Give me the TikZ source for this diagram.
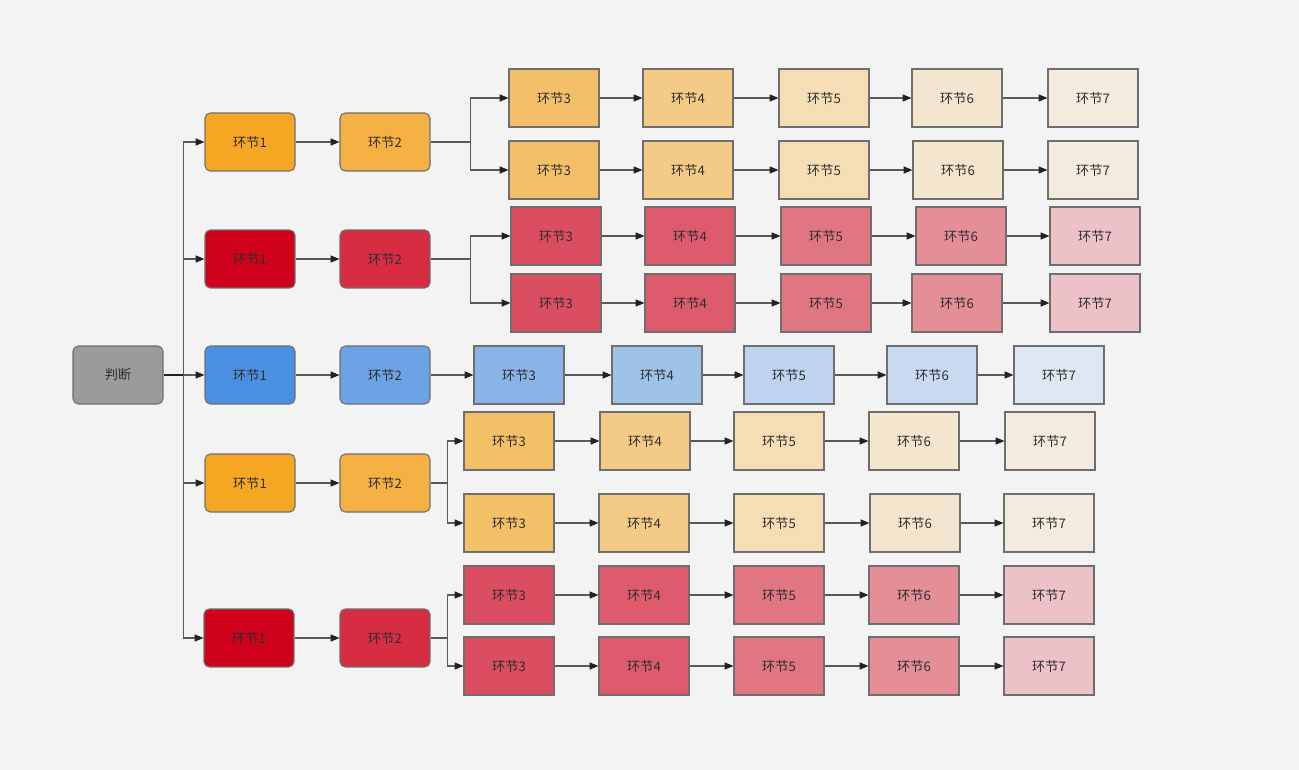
\documentclass[tikz,border=0pt]{standalone}
\usepackage{fontspec}
\newfontfamily\cjk{Noto Sans CJK SC}
\definecolor{bgGray}{HTML}{F3F3F3}
\definecolor{edgeGray}{HTML}{6E6E6E}
\definecolor{linkGray}{HTML}{5A5A5A}
\definecolor{tipGray}{HTML}{222222}
\definecolor{textGray}{HTML}{2E2E2E}
\definecolor{judgeGray}{HTML}{9B9B9B}
\definecolor{O1}{HTML}{F5A623}
\definecolor{O2}{HTML}{F4B042}
\definecolor{O3}{HTML}{F3BF69}
\definecolor{O4}{HTML}{F4CB86}
\definecolor{O5}{HTML}{F5DEB5}
\definecolor{O6}{HTML}{F3E5CE}
\definecolor{O7}{HTML}{F4EBDF}
\definecolor{R1}{HTML}{D0021B}
\definecolor{R2}{HTML}{D72D43}
\definecolor{R3}{HTML}{DB4D60}
\definecolor{R4}{HTML}{DD5B6C}
\definecolor{R5}{HTML}{E07682}
\definecolor{R6}{HTML}{E48E98}
\definecolor{R7}{HTML}{EDC1C8}
\definecolor{B1}{HTML}{4A90E2}
\definecolor{B2}{HTML}{6CA3E4}
\definecolor{B3}{HTML}{8AB4E8}
\definecolor{B4}{HTML}{9FC2E9}
\definecolor{B5}{HTML}{BED3EE}
\definecolor{B6}{HTML}{C9DAF0}
\definecolor{B7}{HTML}{DEE6F1}
\usetikzlibrary{arrows.meta}

% chain of stages 3..7: name, y, palette, x positions
\newcommand\stagechain[4]{%
  \foreach \xx [count=\k from 3] in {#4} {
    \node[stage, fill=#3\k] (#1-\k) at (\xx,#2) {环节\k};
  }
  \foreach \k [remember=\k as \kp (initially 3)] in {4,...,7} {
    \draw[link] (#1-\kp) -- (#1-\k);
  }
}

\begin{document}
\begin{tikzpicture}[
    x={(0.02cm,0)}, y={(0,-0.02cm)},
    stage/.style={draw=edgeGray, line width=0.6pt, text=textGray, inner sep=0pt,
      font=\cjk\fontsize{7.5}{8}\selectfont, minimum width=1.8cm, minimum height=1.16cm},
    rstage/.style={stage, rounded corners=3pt},
    link/.style={-{Triangle[length=5pt,width=4pt,color=tipGray]}, line width=0.6pt, draw=linkGray}
  ]
  % background
  \fill[bgGray] (0,0) rectangle (1299,770);
  \useasboundingbox (0,0) rectangle (1299,770);

  % judge
  \node[rstage, fill=judgeGray] (judge) at (118,375) {判断};
  \draw[line width=0.9pt, tipGray] (judge.east) -- ++(20,0) coordinate (trunk);

  % stages 1 and 2
  \node[rstage, fill=O1] (a1) at (250,142) {环节1};
  \node[rstage, fill=O2] (a2) at (385,142) {环节2};
  \node[rstage, fill=R1] (b1) at (250,259) {环节1};
  \node[rstage, fill=R2] (b2) at (385,259) {环节2};
  \node[rstage, fill=B1] (c1) at (250,375) {环节1};
  \node[rstage, fill=B2] (c2) at (385,375) {环节2};
  \node[rstage, fill=O1] (d1) at (250,483) {环节1};
  \node[rstage, fill=O2] (d2) at (385,483) {环节2};
  \node[rstage, fill=R1] (e1) at (249,638) {环节1};
  \node[rstage, fill=R2] (e2) at (385,638) {环节2};

  \foreach \r in {a,b,c,d,e} {
    \draw[link] (trunk) |- (\r1.west);
    \draw[link] (\r1) -- (\r2);
  }

  % stages 3 to 7
  \stagechain{aa}{98}{O}{554,688,824,957,1093}
  \stagechain{ab}{170}{O}{554,688,824,958,1093}
  \stagechain{ba}{236}{R}{556,690,826,961,1095}
  \stagechain{bb}{303}{R}{556,690,826,957,1095}
  \stagechain{c}{375}{B}{519,657,789,932,1059}
  \stagechain{da}{441}{O}{509,645,779,914,1050}
  \stagechain{db}{523}{O}{509,644,779,915,1049}
  \stagechain{ea}{595}{R}{509,644,779,914,1049}
  \stagechain{eb}{666}{R}{509,644,779,914,1049}

  % branches
  \draw[link] (a2.east) -- ++(40,0) |- (aa-3.west);
  \draw[link] (a2.east) -- ++(40,0) |- (ab-3.west);
  \draw[link] (b2.east) -- ++(40,0) |- (ba-3.west);
  \draw[link] (b2.east) -- ++(40,0) |- (bb-3.west);
  \draw[link] (c2) -- (c-3);
  \draw[link] (d2.east) -- ++(17,0) |- (da-3.west);
  \draw[link] (d2.east) -- ++(17,0) |- (db-3.west);
  \draw[link] (e2.east) -- ++(17,0) |- (ea-3.west);
  \draw[link] (e2.east) -- ++(17,0) |- (eb-3.west);
\end{tikzpicture}
\end{document}
